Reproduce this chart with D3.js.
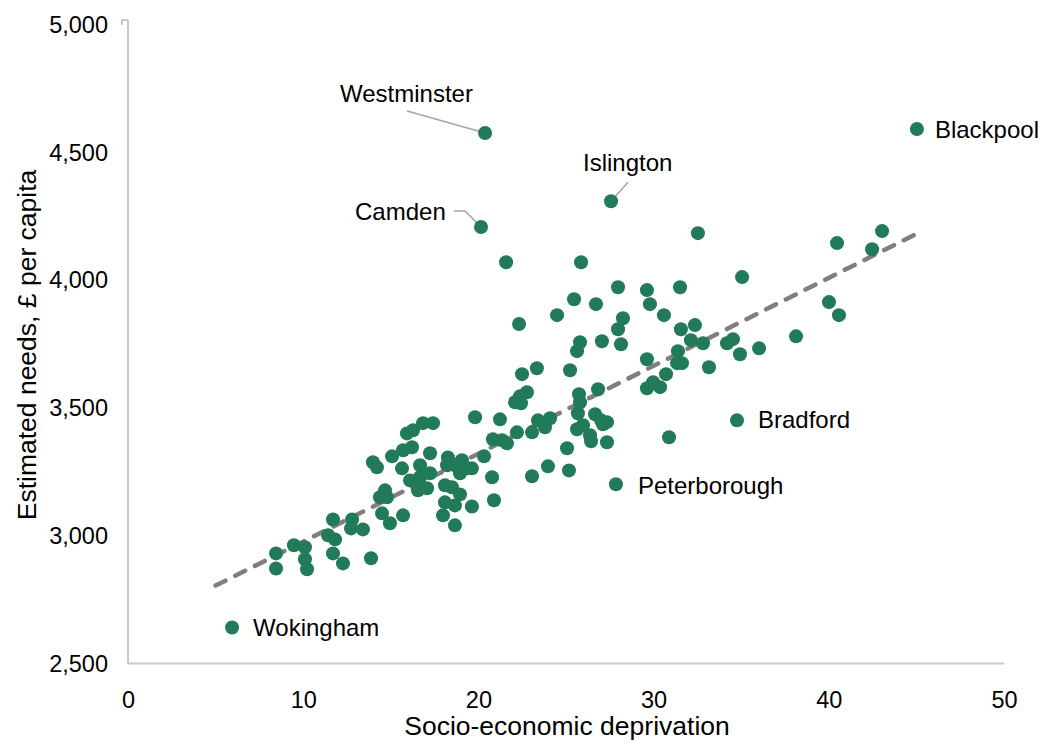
<!DOCTYPE html>
<html>
<head>
<meta charset="utf-8">
<script src="https://cdn.jsdelivr.net/npm/d3@7"></script>
<style>
  html, body { margin: 0; padding: 0; background: #fff; }
  svg { display: block; }
  text { font-family: "Liberation Sans", Arial, sans-serif; fill: #000; }
</style>
</head>
<body>
<svg id="chart" width="1042" height="742"></svg>
<script>
// ---- data ----
const xTicks = [0, 10, 20, 30, 40, 50];
const yTicks = [2500, 3000, 3500, 4000, 4500, 5000];
const xTitle = "Socio-economic deprivation";
const yTitle = "Estimated needs, £ per capita";

// unlabelled local authorities
const deprivation = [
  8.45, 8.45, 9.47, 10.10, 10.10, 10.22, 11.70, 11.42, 11.82, 11.70,
  12.27, 12.79, 12.73, 13.41, 13.87, 14.67, 14.38, 14.78, 14.50, 14.95,
  15.70, 13.98, 14.21, 15.07, 15.70, 16.21, 15.92, 16.27, 16.84, 17.41,
  17.24, 15.64, 16.67, 16.10, 16.67, 17.24, 16.55, 17.07, 18.26, 18.21,
  18.66, 19.06, 19.35, 19.63, 18.95, 18.09, 18.49, 18.95, 18.09, 18.66,
  17.98, 18.66, 19.63, 20.89, 20.78, 20.32, 19.81, 21.23, 20.83, 21.35,
  21.63, 22.20, 23.06, 23.40, 24.09, 23.80, 22.37, 22.77, 22.09, 22.43,
  22.49, 23.34, 25.23, 23.06, 23.97, 25.17, 25.06, 24.49, 22.32, 21.58,
  25.46, 26.71, 25.86, 27.97, 29.62, 29.79, 31.51, 30.59, 32.53, 35.05,
  28.25, 27.97, 27.05, 28.14, 25.80, 25.63, 31.56, 32.36, 32.13, 32.82,
  34.19, 34.53, 34.93, 36.02, 31.39, 31.34, 31.62, 33.16, 29.62, 30.71,
  29.62, 29.97, 30.37, 26.83, 25.74, 25.80, 25.68, 26.66, 27.00, 27.34,
  27.11, 25.63, 25.97, 26.37, 26.43, 27.34, 30.88, 43.04, 40.47, 42.47,
  40.01, 40.58, 38.13
];
const needs = [
  2931, 2872, 2963, 2955, 2908, 2869, 3064, 3002, 2986, 2931,
  2892, 3064, 3029, 3025, 2912, 3178, 3151, 3151, 3088, 3049,
  3080, 3288, 3268, 3311, 3335, 3347, 3401, 3413, 3441, 3441,
  3323, 3264, 3276, 3217, 3229, 3245, 3178, 3186, 3307, 3276,
  3276, 3296, 3264, 3264, 3245, 3198, 3190, 3162, 3131, 3119,
  3080, 3041, 3115, 3139, 3229, 3311, 3464, 3456, 3378, 3374,
  3362, 3405, 3405, 3452, 3460, 3425, 3546, 3562, 3523, 3519,
  3633, 3656, 3648, 3233, 3272, 3256, 3343, 3864, 3829, 4071,
  3926, 3907, 4071, 3973, 3962, 3907, 3973, 3864, 4185, 4013,
  3852, 3809, 3762, 3750, 3758, 3723, 3809, 3825, 3766, 3754,
  3754, 3770, 3711, 3734, 3723, 3676, 3676, 3660, 3691, 3633,
  3578, 3601, 3582, 3574, 3554, 3523, 3480, 3476, 3452, 3445,
  3437, 3417, 3433, 3394, 3370, 3366, 3386, 4193, 4146, 4122,
  3915, 3864, 3781
];

// labelled local authorities
const labelNames = ["Westminster", "Islington", "Camden", "Blackpool", "Bradford", "Peterborough", "Wokingham"];
const labelDeprivation = [20.38, 27.57, 20.15, 45.03, 34.76, 27.85, 5.94];
const labelNeeds = [4577, 4310, 4209, 4593, 3452, 3202, 2641];

// linear trend line endpoints
const trendX = [5, 45];
const trendY = [2805, 4182];

(function () {
  const svg = d3.select("#chart");
  const mLeft = 128, mRight = 1004, mTop = 25, mBottom = 663.5;
  const x = d3.scaleLinear().domain([0, 50]).range([mLeft, mRight]);
  const y = d3.scaleLinear().domain([2500, 5000]).range([mBottom, mTop]);
  const green = "#217a58";
  const axisGrey = "#c9c9c9";

  // axes lines
  svg.append("line").attr("x1", mLeft).attr("x2", mRight).attr("y1", mBottom).attr("y2", mBottom)
    .attr("stroke", axisGrey).attr("stroke-width", 2);
  svg.append("line").attr("x1", mLeft).attr("x2", mLeft).attr("y1", mTop - 5).attr("y2", mBottom)
    .attr("stroke", axisGrey).attr("stroke-width", 2);
  svg.append("path").attr("d", `M${mLeft - 6},${mTop} V${mTop - 5} H${mLeft}`)
    .attr("fill", "none").attr("stroke", axisGrey).attr("stroke-width", 2);

  // tick labels via d3 axes
  const xAxis = svg.append("g").attr("transform", `translate(0,${mBottom})`)
    .call(d3.axisBottom(x).tickValues(xTicks).tickSize(0).tickPadding(28).tickFormat(d3.format("d")));
  xAxis.select(".domain").remove();
  xAxis.selectAll("text").attr("font-size", 23.5).attr("font-family", "Liberation Sans, Arial, sans-serif").attr("fill", "#000");

  const yAxis = svg.append("g").attr("transform", `translate(${mLeft},0)`)
    .call(d3.axisLeft(y).tickValues(yTicks).tickSize(0).tickPadding(20).tickFormat(d3.format(",")));
  yAxis.select(".domain").remove();
  yAxis.selectAll("text").attr("font-size", 23.5).attr("font-family", "Liberation Sans, Arial, sans-serif").attr("fill", "#000");

  // axis titles
  svg.append("text").attr("x", (mLeft + mRight) / 2 + 1).attr("y", 735)
    .attr("text-anchor", "middle").attr("font-size", 26.5).text(xTitle);
  svg.append("text").attr("transform", `translate(36,345) rotate(-90)`)
    .attr("text-anchor", "middle").attr("font-size", 26.5).text(yTitle);

  // trend line
  svg.append("line")
    .attr("x1", x(trendX[0])).attr("y1", y(trendY[0]))
    .attr("x2", x(trendX[1])).attr("y2", y(trendY[1]))
    .attr("stroke", "#7f7f7f").attr("stroke-width", 4.5)
    .attr("stroke-dasharray", "11,11").attr("stroke-linecap", "round");

  // leader lines (pixel offsets from each labelled point)
  const leaders = {
    "Westminster": [[-78, -22], [0, 0]],
    "Islington": [[17, -19], [0, 0]],
    "Camden": [[-27, -16], [-16, -16], [0, 0]]
  };
  labelNames.forEach((n, i) => {
    if (!leaders[n]) return;
    const px = x(labelDeprivation[i]), py = y(labelNeeds[i]);
    svg.append("path")
      .attr("d", d3.line()(leaders[n].map(p => [px + p[0], py + p[1]])))
      .attr("fill", "none").attr("stroke", "#a6a6a6").attr("stroke-width", 1.6);
  });

  // points
  const pts = deprivation.map((d, i) => ({ x: d, y: needs[i] }));
  svg.append("g").selectAll("circle").data(pts).join("circle")
    .attr("cx", d => x(d.x)).attr("cy", d => y(d.y)).attr("r", 7).attr("fill", green);

  const lpts = labelNames.map((n, i) => ({ n, x: labelDeprivation[i], y: labelNeeds[i] }));
  svg.append("g").selectAll("circle").data(lpts).join("circle")
    .attr("cx", d => x(d.x)).attr("cy", d => y(d.y)).attr("r", 7).attr("fill", green);

  // label text offsets
  const labelOffset = {
    "Westminster": [-145, -31],
    "Islington": [-28, -30],
    "Camden": [-126, -7],
    "Blackpool": [18, 9],
    "Bradford": [21, 8],
    "Peterborough": [22, 10],
    "Wokingham": [21, 9]
  };
  svg.append("g").selectAll("text").data(lpts).join("text")
    .attr("x", d => x(d.x) + labelOffset[d.n][0])
    .attr("y", d => y(d.y) + labelOffset[d.n][1])
    .attr("font-size", 24).text(d => d.n);
})();
</script>
</body>
</html>
